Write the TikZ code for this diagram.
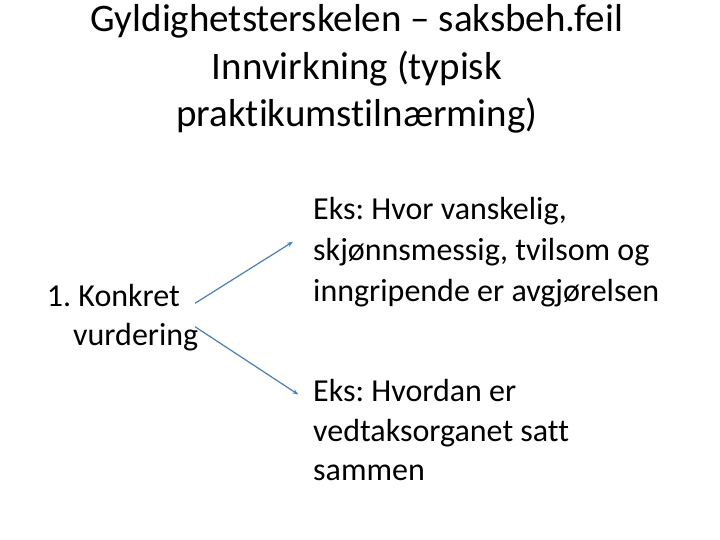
\documentclass[tikz,border=0pt]{standalone}
\usepackage{fontspec}
\setmainfont{Carlito}[Ligatures=NoCommon]
\usepackage{xcolor}
\usetikzlibrary{arrows.meta}
\definecolor{pilblaa}{RGB}{74,126,187}
\frenchspacing

\begin{document}
\begin{tikzpicture}[x=1pt,y=-1pt,
  tittel/.style={inner sep=0pt,align=center,font=\fontsize{39}{47.5}\selectfont},
  tekst/.style={inner sep=0pt,align=left,font=\fontsize{32}{41}\selectfont},
  pil/.style={-{Stealth[length=6pt,width=4.5pt]},pilblaa,line width=1.2pt}]
\useasboundingbox (0,0) rectangle (720,540);

\node[tittel,anchor=base] (tittel) at (357,127) {Gyldighetsterskelen -- saksbeh.feil\\Innvirkning (typisk\\praktikumstilnærming)};

\node[tekst,anchor=base west,font=\fontsize{32}{38.5}\selectfont] (konkret) at (46.7,345) {1. Konkret\\\hspace*{26.3pt}vurdering};

\node[tekst,anchor=base west] (eks1) at (313,301.7) {Eks: Hvor vanskelig,\\skjønnsmessig, tvilsom og\\inngripende er avgjørelsen};
\node[tekst,anchor=base west,font=\fontsize{32}{39.5}\selectfont] (eks2) at (313,480.7) {Eks: Hvordan er\\vedtaksorganet satt\\sammen};

\coordinate (inn1) at ([xshift=-20pt,yshift=60pt]eks1.base west);
\coordinate (inn2) at ([xshift=-14.7pt,yshift=86.2pt]eks2.base west);

\draw[pil] ([xshift=148.3pt,yshift=41.7pt]konkret.base west) -- (inn1);
\draw[pil] ([xshift=148.3pt,yshift=18.3pt]konkret.base west) -- (inn2);
\end{tikzpicture}
\end{document}
